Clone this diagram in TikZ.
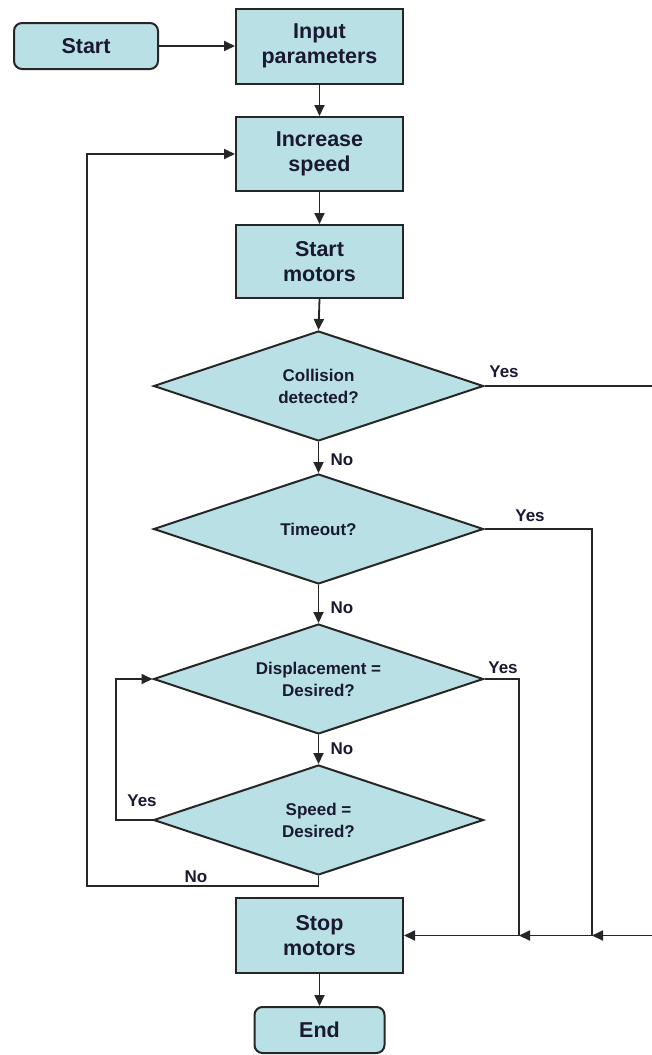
\documentclass[tikz,border=0pt]{standalone}
\usepackage{fontspec}
\setmainfont{Liberation Sans}
\usetikzlibrary{shapes.geometric,arrows.meta}
\definecolor{cfill}{RGB}{185,224,228}
\definecolor{ctext}{RGB}{25,25,50}
\begin{document}
\begin{tikzpicture}[x=1pt,y=-1pt,
  every node/.style={text=ctext},
  base/.style={draw=black!85, fill=cfill, line width=2pt, align=center, inner sep=0pt},
  procbox/.style={base, minimum width=167pt, minimum height=75pt, font=\fontsize{21.5}{25}\selectfont\bfseries},
  termbox/.style={base, rounded corners=8pt, minimum height=46pt, font=\fontsize{21.5}{25}\selectfont\bfseries},
  decbox/.style={base, diamond, shape aspect=3, minimum width=330pt, minimum height=110pt, font=\fontsize{17}{22}\selectfont\bfseries},
  lbl/.style={font=\fontsize{17}{18}\selectfont\bfseries, inner sep=0pt},
  conn/.style={draw=black!85, line width=1.8pt},
  arr/.style={conn, -{Triangle[length=11pt,width=10pt]}}]
\useasboundingbox (0,0) rectangle (652,1055);

\node[termbox, minimum width=144pt] (start) at (86,46) {Start};
\node[procbox] (input) at (319.5,46) {Input\\parameters};
\node[procbox, minimum height=74pt] (inc) at (319.5,154) {Increase\\speed};
\node[procbox, minimum height=73pt] (smot) at (319.5,261.5) {Start\\motors};
\node[decbox] (coll) at (318.5,386) {Collision\\detected?};
\node[decbox] (tout) at (318.5,529) {Timeout?};
\node[decbox] (disp) at (318.5,679) {Displacement =\\Desired?};
\node[decbox] (spd) at (318.5,820) {Speed =\\Desired?};
\node[procbox] (stop) at (319.5,935.5) {Stop\\motors};
\node[termbox, minimum width=130pt] (end) at (319.5,1030) {End};

\coordinate (j1) at (519,935.5);
\coordinate (j2) at (592,935.5);
\coordinate (j3) at (656,935.5);
\coordinate (lp) at (87,886);
\coordinate (sp) at (116,820);

\draw[arr] (start) -- (input);
\draw[arr] (input) -- (inc);
\draw[arr] (inc) -- (smot);
\draw[arr] (smot.south) -- (coll.north);
\draw[arr] (coll) -- (tout);
\draw[arr] (tout) -- (disp);
\draw[arr] (disp) -- (spd);
\draw[arr] (stop) -- (end);
\draw[arr] (spd.west) -- (sp) |- (disp.west);
\draw[arr] (spd.south) |- (lp) |- (inc.west);
\draw[arr] (disp.east) -| (j1) -- (stop.east);
\draw[arr] (tout.east) -| (j2) -- (j1);
\draw[arr] (coll.east) -| (j3) -- (j2);

\node[lbl] (y1) at (504,372) {Yes};
\node[lbl] (n1) at (342,460) {No};
\node[lbl] (y2) at (530,516) {Yes};
\node[lbl] (n2) at (342,608) {No};
\node[lbl] (y3) at (503,668) {Yes};
\node[lbl] (n3) at (342,749) {No};
\node[lbl] (y4) at (142,801) {Yes};
\node[lbl] (n4) at (196,877) {No};
\end{tikzpicture}
\end{document}
